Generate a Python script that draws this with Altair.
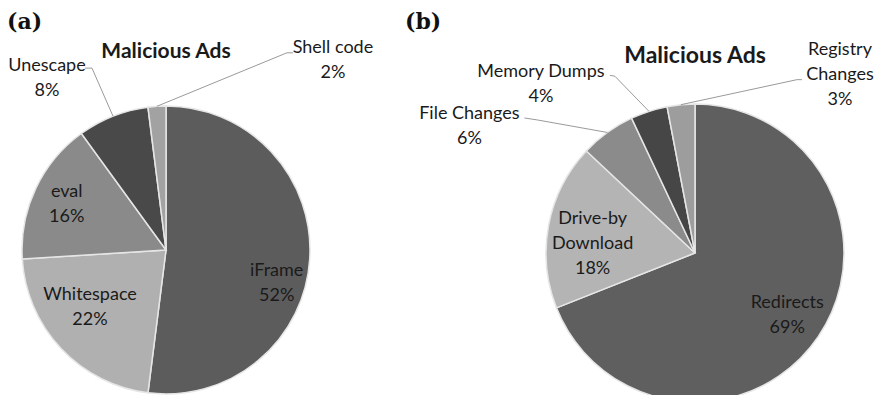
import numpy as np
import pandas as pd
import altair as alt

# ---------------- data ----------------
cats_a = ["iFrame", "Whitespace", "eval", "Unescape", "Shell code"]
vals_a = [52, 22, 16, 8, 2]
names_a = ["iFrame", "Whitespace", "eval", "Unescape", "Shell code"]

cats_b = ["Redirects", "Drive-by Download", "File Changes", "Memory Dumps", "Registry Changes"]
vals_b = [69, 18, 6, 4, 3]
names_b = ["Redirects", "Drive-by\nDownload", "File Changes", "Memory Dumps", "Registry\nChanges"]

title_text = "Malicious Ads"
panel_a = "(a)"
panel_b = "(b)"

# ---------------- styles / layout ----------------
colors_a = ["#5c5c5c", "#b0b0b0", "#8a8a8a", "#494949", "#a2a2a2"]
colors_b = ["#5f5f5f", "#b4b4b4", "#8b8b8b", "#464646", "#9d9d9d"]

W, H = 866, 387
CA = (166, 250, 144)   # page coords: centre x, centre y, radius
CB = (695, 253, 149)
LH = 25                # label line height

# label block-centre offsets from the slice's rim midpoint
lab_off_a = [(-33, 24), (29, -41), (31, 16), (-66, -37.5), (176, -46)]
lab_off_b = [(-31, -21), (44, 19), (-138, -5.5), (-108, -27), (159, -30)]
# leader line: (edge dx, dy), (elbow dx, dy) relative to label centre; None = inside label
lead_a = [None, None, None, ((38, -10.5), (45, -10.5)), ((-40, -7.5), (-46, -7.5))]
lead_b = [None, None, ((55, -9), (68, -7)), ((69, -9), (74, -8)), ((-38, 5), (-43, 5))]

FONT = "Lato"


def build(cats, vals, names, colors, centre, lab_off, lead, pie):
    cx, cy, r = centre
    v = np.array(vals, dtype=float)
    start = np.cumsum(v) - v
    mid = (start + v / 2) / v.sum() * 2 * np.pi
    rim_x = cx + r * np.sin(mid)
    rim_y = cy - r * np.cos(mid)
    slices = pd.DataFrame({"category": cats, "value": vals, "fill": colors,
                           "idx": range(len(cats))})
    texts = [f"{n}\n{val}%" for n, val in zip(names, vals)]
    nlines = np.array([t.count("\n") + 1 for t in texts])
    cxl = rim_x + np.array([o[0] for o in lab_off])
    cyl = rim_y + np.array([o[1] for o in lab_off])
    lab = pd.DataFrame({
        "text": texts,
        "lx": cxl,
        "ly": cyl - (nlines - 1) * LH / 2,   # first line position
    })
    rows = []
    for i, ld in enumerate(lead):
        if ld is None:
            continue
        (ex, ey), (bx, by) = ld
        key = f"{pie}{i}"
        rows.append({"lid": key, "ord": 0, "x": cxl[i] + ex, "y": cyl[i] + ey})
        rows.append({"lid": key, "ord": 1, "x": cxl[i] + bx, "y": cyl[i] + by})
        rows.append({"lid": key, "ord": 2, "x": rim_x[i], "y": rim_y[i]})
    lines = pd.DataFrame(rows)
    return slices, lab, lines


sa, la, lna = build(cats_a, vals_a, names_a, colors_a, CA, lab_off_a, lead_a, "a")
sb, lb, lnb = build(cats_b, vals_b, names_b, colors_b, CB, lab_off_b, lead_b, "b")

xs = alt.Scale(domain=[8, 8 + W], nice=False, zero=False)
ys = alt.Scale(domain=[8, 8 + H], nice=False, zero=False, reverse=True)


def pie_layer(df, centre):
    cx, cy, r = centre
    return alt.Chart(df).mark_arc(outerRadius=r, stroke="#e6e6e6", strokeWidth=1.5).encode(
        theta=alt.Theta("value:Q", stack=True),
        order=alt.Order("idx:Q"),
        color=alt.Color("fill:N", scale=None),
        x=alt.value(cx - 8),
        y=alt.value(cy - 8),
    )


def line_layer(df):
    return alt.Chart(df).mark_line(color="#9a9a9a", strokeWidth=1).encode(
        x=alt.X("x:Q", scale=xs, axis=None),
        y=alt.Y("y:Q", scale=ys, axis=None),
        detail="lid:N",
        order="ord:Q",
    )


def label_layer(df):
    return alt.Chart(df).mark_text(font=FONT, fontSize=18, lineBreak="\n", lineHeight=LH,
                                   color="#1a1a1a", align="center", baseline="middle").encode(
        x=alt.X("lx:Q", scale=xs, axis=None),
        y=alt.Y("ly:Q", scale=ys, axis=None),
        text="text:N",
    )


def text_value(txt, x, y, **kw):
    return alt.Chart(pd.DataFrame({"t": [txt]})).mark_text(**kw).encode(
        text="t:N", x=alt.value(x - 8), y=alt.value(y - 8))


titles = [
    text_value(title_text, CA[0], 52, font=FONT, fontSize=21, fontWeight="bold",
               color="#1a1a1a", align="center", baseline="middle"),
    text_value(title_text, CB[0], 56, font=FONT, fontSize=23, fontWeight="bold",
               color="#1a1a1a", align="center", baseline="middle"),
    text_value(panel_a, 7, 22, font="DejaVu Serif", fontSize=22, fontWeight="bold",
               color="#111111", align="left", baseline="middle"),
    text_value(panel_b, 405, 22, font="DejaVu Serif", fontSize=22, fontWeight="bold",
               color="#111111", align="left", baseline="middle"),
]

chart = alt.layer(
    pie_layer(sa, CA),
    pie_layer(sb, CB),
    line_layer(lna),
    line_layer(lnb),
    label_layer(la),
    label_layer(lb),
    *titles,
).properties(width=W, height=H, padding=0, autosize="none",
             background="white").configure_view(stroke=None)

chart.save("out.html", embed_options={"renderer": "svg", "actions": False})
